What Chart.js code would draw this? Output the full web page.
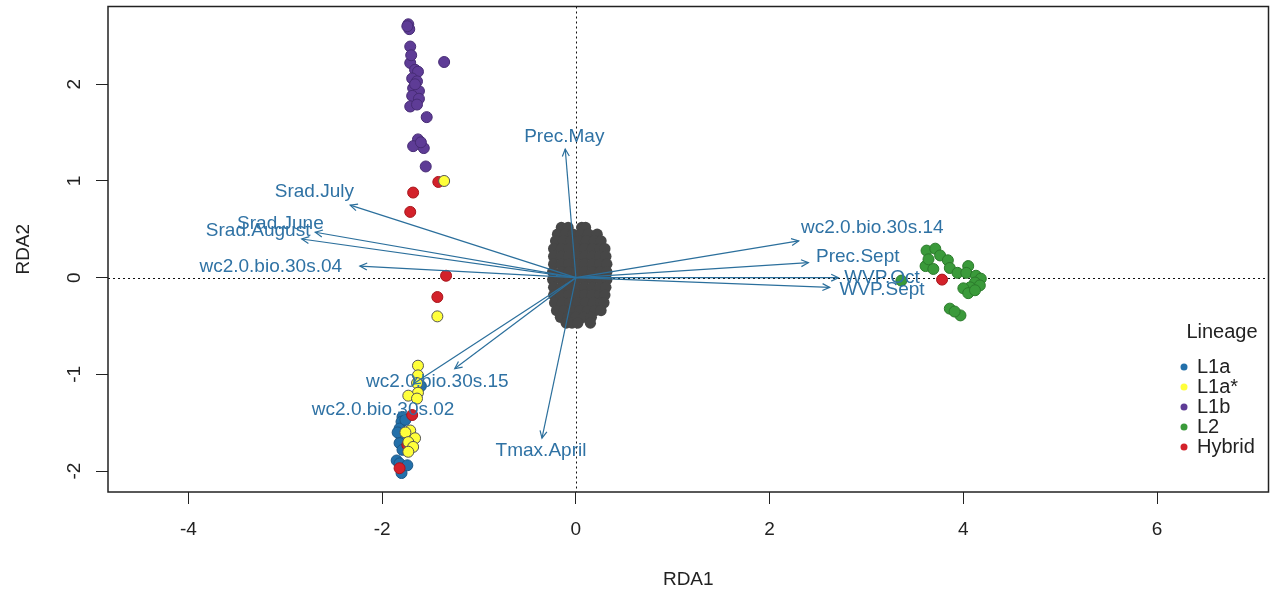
<!DOCTYPE html>
<html>
<head>
<meta charset="utf-8">
<script src="https://cdn.jsdelivr.net/npm/chart.js@4.4.1/dist/chart.umd.min.js"></script>
<style>
html, body { margin: 0; padding: 0; background: #fff; }
</style>
</head>
<body>
<canvas id="rdaChart" width="1275" height="596"></canvas>
<script>
// ------------------------------------
// AXES
// ------------------------------------
const xTicks = [-4, -2, 0, 2, 4, 6];
const yTicks = [-2, -1, 0, 1, 2];
const xRange = [-4.83, 7.15];
const yRange = [-2.216, 2.804];

// ------------------------------------
// SITE SCORES (by lineage)
// ------------------------------------
const l1aX = [-1.79, -1.80, -1.82, -1.80, -1.82, -1.79, -1.85, -1.82, -1.80, -1.74, -1.76, -1.60, -1.84];
const l1aY = [-1.44, -1.49, -1.56, -1.65, -1.71, -1.78, -1.89, -1.92, -2.02, -1.94, -1.47, -1.12, -1.60];

const l1aStarX = [-1.36, -1.43, -1.63, -1.63, -1.64, -1.63, -1.73, -1.64, -1.71, -1.76, -1.66, -1.73, -1.68, -1.73];
const l1aStarY = [1.00, -0.40, -0.91, -1.01, -1.09, -1.19, -1.22, -1.25, -1.58, -1.60, -1.66, -1.70, -1.75, -1.80];

const l1bX = [-1.73, -1.72, -1.71, -1.36, -1.71, -1.66, -1.63, -1.69, -1.64, -1.68, -1.62, -1.69, -1.62, -1.71, -1.64, -1.54, -1.63, -1.68, -1.57, -1.55, -1.74, -1.70, -1.66, -1.60];
const l1bY = [2.62, 2.57, 2.39, 2.23, 2.22, 2.15, 2.13, 2.06, 2.03, 1.96, 1.93, 1.88, 1.85, 1.77, 1.79, 1.66, 1.43, 1.36, 1.34, 1.15, 2.60, 2.30, 2.00, 1.40];

const l2X = [3.62, 3.71, 3.76, 3.84, 3.61, 3.69, 3.86, 3.94, 4.05, 4.03, 4.13, 4.18, 4.12, 4.17, 4.07, 4.00, 4.05, 4.12, 3.36, 3.86, 3.97, 3.91, 3.64];
const l2Y = [0.28, 0.30, 0.23, 0.18, 0.12, 0.09, 0.10, 0.05, 0.12, 0.05, 0.02, -0.01, -0.05, -0.08, -0.10, -0.11, -0.16, -0.13, -0.03, -0.32, -0.39, -0.35, 0.19];

const hybridX = [-1.42, -1.68, -1.71, -1.34, -1.43, -1.69, -1.74, -1.82, 3.78];
const hybridY = [0.99, 0.88, 0.68, 0.02, -0.20, -1.42, -1.73, -1.97, -0.02];

// ------------------------------------
// SNP SCORES (grey cloud round the origin), one list of x per row
// ------------------------------------
const snpRowY = [0.52, 0.45, 0.38, 0.30, 0.22, 0.14, 0.06, -0.02, -0.10, -0.18, -0.26, -0.34, -0.41, -0.47];
const snpRowX = [
    [-0.15, -0.08, 0.06, 0.10],
    [-0.19, -0.11, -0.03, 0.05, 0.13, 0.22],
    [-0.21, -0.13, -0.05, 0.03, 0.11, 0.19, 0.26],
    [-0.23, -0.15, -0.07, 0.01, 0.09, 0.17, 0.25, 0.30],
    [-0.23, -0.15, -0.07, 0.01, 0.09, 0.17, 0.25, 0.31],
    [-0.23, -0.15, -0.07, 0.01, 0.09, 0.17, 0.25, 0.32],
    [-0.24, -0.15, -0.07, 0.01, 0.09, 0.17, 0.25, 0.32],
    [-0.24, -0.15, -0.07, 0.01, 0.09, 0.17, 0.25, 0.32],
    [-0.23, -0.15, -0.07, 0.01, 0.09, 0.17, 0.25, 0.31],
    [-0.23, -0.15, -0.07, 0.01, 0.09, 0.17, 0.25, 0.30],
    [-0.22, -0.14, -0.06, 0.02, 0.10, 0.18, 0.26, 0.29],
    [-0.20, -0.12, -0.04, 0.04, 0.12, 0.20, 0.26],
    [-0.16, -0.08, 0.00, 0.08, 0.16],
    [-0.10, -0.04, 0.02, 0.15]
];

// ------------------------------------
// ENVIRONMENTAL VECTORS
// ------------------------------------
const envNames = ["Prec.May", "Srad.July", "Srad.June", "Srad.August", "wc2.0.bio.30s.04",
    "wc2.0.bio.30s.15", "wc2.0.bio.30s.02", "Tmax.April",
    "wc2.0.bio.30s.14", "Prec.Sept", "WVP.Oct", "WVP.Sept"];
const envX = [-0.11, -2.33, -2.69, -2.83, -2.23, -1.25, -1.68, -0.35, 2.30, 2.40, 2.71, 2.62];
const envY = [1.33, 0.75, 0.47, 0.40, 0.12, -0.94, -1.10, -1.66, 0.38, 0.155, 0.00, -0.10];
const envLabelX = [-0.12, -2.70, -3.05, -3.28, -3.15, -1.43, -1.99, -0.36, 3.06, 2.91, 3.16, 3.16];
const envLabelY = [1.46, 0.89, 0.56, 0.48, 0.11, -1.08, -1.37, -1.79, 0.52, 0.22, 0.00, -0.12];

// ------------------------------------
// LEGEND
// ------------------------------------
const lineageNames = ["L1a", "L1a*", "L1b", "L2", "Hybrid"];
const lineageColors = ["#2370aa", "#ffff3a", "#5e3c96", "#3a9a3a", "#d3212a"];
const lineageBorders = ["#1c5684", "#555555", "#472c75", "#2b7a2b", "#a8161c"];

const FONT = "'Liberation Sans', Arial, sans-serif";
const ARROW_COLOR = "#2b6f9c";
const LABEL_COLOR = "#2f72a4";

function pairs(xs, ys) {
    return xs.map((x, i) => ({ x: x, y: ys[i] }));
}

const snpPoints = [];
snpRowY.forEach((y, r) => {
    snpRowX[r].forEach(x => snpPoints.push({ x: x, y: y }));
});

function siteSet(label, xs, ys, idx, order) {
    return {
        label: label,
        data: pairs(xs, ys),
        backgroundColor: lineageColors[idx],
        borderColor: lineageBorders[idx],
        borderWidth: 1,
        pointRadius: 5.5,
        order: order
    };
}

const datasets = [
    {
        label: "snp",
        data: snpPoints,
        backgroundColor: "#474747",
        borderColor: "#474747",
        borderWidth: 0,
        pointRadius: 5.6,
        order: 10
    },
    siteSet("L1a", l1aX, l1aY, 0, 6),
    siteSet("L1b", l1bX, l1bY, 2, 5),
    siteSet("L2", l2X, l2Y, 3, 4),
    siteSet("Hybrid", hybridX, hybridY, 4, 3),
    siteSet("L1a*", l1aStarX, l1aStarY, 1, 2)
];

envNames.forEach((name, i) => {
    datasets.push({
        label: name,
        type: "line",
        data: [{ x: 0, y: 0 }, { x: envX[i], y: envY[i] }],
        borderColor: ARROW_COLOR,
        borderWidth: 1.2,
        pointRadius: 0,
        fill: false,
        order: 0
    });
});

// ------------------------------------
// PLUGINS: zero lines, arrows + labels, box, y labels, legend
// ------------------------------------
const zeroLines = {
    id: "zeroLines",
    beforeDatasetsDraw(chart) {
        const { ctx, chartArea, scales } = chart;
        const x0 = Math.round(scales.x.getPixelForValue(0)) + 0.5;
        const y0 = Math.round(scales.y.getPixelForValue(0)) + 0.5;
        ctx.save();
        ctx.strokeStyle = "#111";
        ctx.lineWidth = 1;
        ctx.setLineDash([2, 3]);
        ctx.beginPath();
        ctx.moveTo(x0, chartArea.top);
        ctx.lineTo(x0, chartArea.bottom);
        ctx.moveTo(chartArea.left, y0);
        ctx.lineTo(chartArea.right, y0);
        ctx.stroke();
        ctx.restore();
    }
};

const arrowLabels = {
    id: "arrowLabels",
    afterDatasetsDraw(chart) {
        const { ctx, scales } = chart;
        ctx.save();
        ctx.strokeStyle = ARROW_COLOR;
        ctx.lineWidth = 1.2;
        envNames.forEach((name, i) => {
            const ox = scales.x.getPixelForValue(0);
            const oy = scales.y.getPixelForValue(0);
            const tx = scales.x.getPixelForValue(envX[i]);
            const ty = scales.y.getPixelForValue(envY[i]);
            const a = Math.atan2(ty - oy, tx - ox);
            const len = 8;
            ctx.beginPath();
            ctx.moveTo(tx - len * Math.cos(a - 0.45), ty - len * Math.sin(a - 0.45));
            ctx.lineTo(tx, ty);
            ctx.lineTo(tx - len * Math.cos(a + 0.45), ty - len * Math.sin(a + 0.45));
            ctx.stroke();
        });
        ctx.fillStyle = LABEL_COLOR;
        ctx.font = "19px " + FONT;
        ctx.textAlign = "center";
        ctx.textBaseline = "middle";
        envNames.forEach((name, i) => {
            ctx.fillText(name, scales.x.getPixelForValue(envLabelX[i]), scales.y.getPixelForValue(envLabelY[i]));
        });
        ctx.restore();
    }
};

const frame = {
    id: "frame",
    afterDraw(chart) {
        const { ctx, chartArea, scales } = chart;
        ctx.save();
        ctx.strokeStyle = "#222";
        ctx.lineWidth = 1.5;
        ctx.strokeRect(chartArea.left, chartArea.top, chartArea.right - chartArea.left, chartArea.bottom - chartArea.top);

        ctx.fillStyle = "#222";
        ctx.font = "19px " + FONT;
        ctx.textAlign = "center";
        ctx.textBaseline = "middle";
        // y tick labels, rotated as in base R
        yTicks.forEach(v => {
            const py = scales.y.getPixelForValue(v);
            ctx.save();
            ctx.translate(75, py);
            ctx.rotate(-Math.PI / 2);
            ctx.fillText(String(v), 0, 0);
            ctx.restore();
        });
        // axis titles
        ctx.fillText("RDA1", (chartArea.left + chartArea.right) / 2, 580);
        ctx.save();
        ctx.translate(24, (chartArea.top + chartArea.bottom) / 2);
        ctx.rotate(-Math.PI / 2);
        ctx.fillText("RDA2", 0, 0);
        ctx.restore();

        // legend
        ctx.font = "20px " + FONT;
        ctx.fillText("Lineage", 1222, 332);
        ctx.textAlign = "left";
        lineageNames.forEach((name, i) => {
            const y = 367 + i * 20;
            ctx.beginPath();
            ctx.arc(1184, y, 3.5, 0, Math.PI * 2);
            ctx.fillStyle = lineageColors[i];
            ctx.fill();
            ctx.fillStyle = "#222";
            ctx.fillText(name, 1197, y);
        });
        ctx.restore();
    }
};

const rdaChart = new Chart(document.getElementById("rdaChart").getContext("2d"), {
    type: "scatter",
    data: { datasets: datasets },
    options: {
        responsive: false,
        animation: false,
        layout: { padding: { top: 5, right: 2, left: 0, bottom: 0 } },
        plugins: {
            legend: { display: false },
            tooltip: { enabled: false }
        },
        scales: {
            x: {
                type: "linear",
                min: xRange[0],
                max: xRange[1],
                afterBuildTicks: s => { s.ticks = xTicks.map(v => ({ value: v })); },
                afterFit: s => { s.height = 104; },
                border: { display: false },
                grid: { drawOnChartArea: false, tickLength: 12, color: "#222", lineWidth: 1 },
                ticks: { color: "#222", font: { family: FONT, size: 19 }, padding: 14, maxRotation: 0 }
            },
            y: {
                type: "linear",
                min: yRange[0],
                max: yRange[1],
                afterBuildTicks: s => { s.ticks = yTicks.map(v => ({ value: v })); },
                afterFit: s => { s.width = 108; },
                border: { display: false },
                grid: { drawOnChartArea: false, tickLength: 12, color: "#222", lineWidth: 1 },
                ticks: { display: false }
            }
        }
    },
    plugins: [zeroLines, arrowLabels, frame]
});
</script>
</body>
</html>
